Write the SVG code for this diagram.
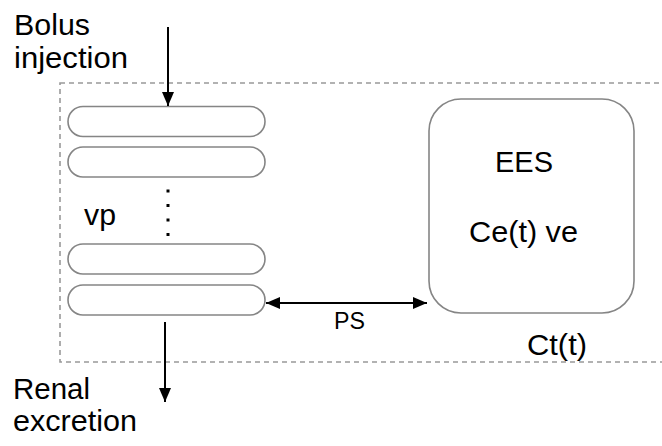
<svg xmlns="http://www.w3.org/2000/svg" width="662" height="446" viewBox="0 0 662 446">
  <style>
    .lbl { font-family: "Liberation Sans", Arial, Helvetica, sans-serif; fill: #000; }
    .big { font-size: 29px; }
    .small { font-size: 23px; }
    .pill { fill: #fff; stroke: #858585; stroke-width: 1.6; }
    .wire { stroke: #000; stroke-width: 2; fill: none; }
  </style>
  <defs>
    <marker id="head" viewBox="0 0 14 12" refX="14" refY="6" markerWidth="14" markerHeight="12" markerUnits="userSpaceOnUse" orient="auto-start-reverse">
      <path d="M0,0 L14,6 L0,12 Z" fill="#000"/>
    </marker>
  </defs>

  <rect x="0" y="0" width="662" height="446" fill="#fff"/>

  <!-- tissue boundary -->
  <g id="tissue">
    <rect x="60" y="83" width="640" height="279" fill="none" stroke="#999" stroke-width="1.6" stroke-dasharray="5 4"/>
    <text class="lbl big" x="527" y="355" textLength="60" lengthAdjust="spacingAndGlyphs">Ct(t)</text>
  </g>

  <!-- plasma compartment -->
  <g id="plasma">
    <rect class="pill" x="68" y="106.5" width="197" height="30" rx="15"/>
    <rect class="pill" x="68" y="147" width="197" height="30" rx="15"/>
    <rect class="pill" x="68" y="244" width="197" height="30" rx="15"/>
    <rect class="pill" x="68" y="285" width="197" height="30" rx="15"/>
    <line x1="168" y1="189.5" x2="168" y2="236" stroke="#000" stroke-width="3" stroke-dasharray="3 11.5"/>
    <text class="lbl big" x="84" y="225" textLength="32" lengthAdjust="spacingAndGlyphs">vp</text>
  </g>

  <!-- extravascular extracellular space -->
  <g id="ees">
    <rect x="429" y="99" width="205" height="214" rx="32" fill="#fff" stroke="#858585" stroke-width="1.6"/>
    <text class="lbl big" x="495" y="172" textLength="58" lengthAdjust="spacingAndGlyphs">EES</text>
    <text class="lbl big" x="469" y="242" textLength="109" lengthAdjust="spacingAndGlyphs">Ce(t) ve</text>
  </g>

  <g id="bolus-label">
    <text class="lbl big" x="14" y="35" textLength="76" lengthAdjust="spacingAndGlyphs">Bolus</text>
    <text class="lbl big" x="14" y="68" textLength="114" lengthAdjust="spacingAndGlyphs">injection</text>
  </g>

  <g id="renal-label">
    <text class="lbl big" x="13" y="399" textLength="77" lengthAdjust="spacingAndGlyphs">Renal</text>
    <text class="lbl big" x="13" y="431" textLength="124" lengthAdjust="spacingAndGlyphs">excretion</text>
  </g>

  <!-- connectors -->
  <g id="connectors">
    <line class="wire" x1="168" y1="27" x2="168" y2="106" marker-end="url(#head)"/>
    <line class="wire" x1="165" y1="322" x2="165" y2="402" marker-end="url(#head)"/>
    <line class="wire" x1="266" y1="303" x2="427" y2="303" marker-start="url(#head)" marker-end="url(#head)"/>
    <text class="lbl small" x="334" y="329" textLength="31" lengthAdjust="spacingAndGlyphs">PS</text>
  </g>
</svg>
